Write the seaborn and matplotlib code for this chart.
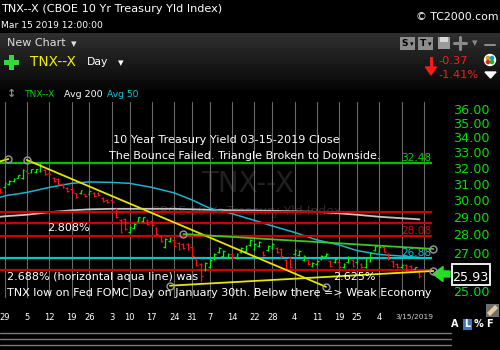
import numpy as np
import pandas as pd
import matplotlib
matplotlib.use("Agg")
import matplotlib.pyplot as plt
import seaborn as sns
from matplotlib.patches import Rectangle, Circle, Polygon
from matplotlib.transforms import ScaledTranslation
from matplotlib.ticker import NullLocator, NullFormatter
from matplotlib.colors import LinearSegmentedColormap

# ---------------- data (trading-day index, 0 = Oct 29 2018) ----------------
day = list(range(-1, 94))
high = [30.92, 31.23, 31.41, 31.54, 31.73, 32.12, 31.99, 32.12, 32.12, 32.48,
        32.12, 31.92, 31.60, 31.54, 31.23, 30.98, 30.92, 30.61, 30.80, 30.55,
        30.73, 30.67, 30.67, 30.36, 30.24, 30.18, 29.71, 29.06, 29.12, 28.65,
        28.82, 29.18, 29.18, 29.06, 29.00, 28.59, 28.14, 27.97, 28.03, 27.91,
        27.75, 27.69, 27.69, 27.52, 26.87, 26.60, 26.66, 26.82, 27.14, 27.47,
        27.30, 27.14, 27.14, 27.14, 27.47, 27.58, 27.91, 27.69, 27.80, 27.25,
        27.58, 27.69, 27.47, 27.41, 26.82, 26.93, 27.36, 27.30, 27.03, 26.82,
        26.66, 26.76, 27.03, 27.14, 26.76, 26.87, 26.71, 26.60, 26.98, 26.82,
        26.93, 26.60, 26.93, 27.19, 27.58, 27.52, 27.52, 27.14, 26.76, 26.60,
        26.55, 26.55, 26.50, 26.39, 26.12]
low = [30.61, 30.98, 31.10, 31.29, 31.54, 31.48, 31.86, 31.86, 31.86, 31.92,
       31.73, 31.73, 31.29, 31.10, 30.92, 30.67, 30.61, 30.30, 30.55, 30.36,
       30.49, 30.36, 30.43, 30.06, 30.00, 30.06, 29.12, 28.25, 28.42, 28.25,
       28.48, 28.88, 28.88, 28.70, 28.65, 28.14, 27.75, 27.41, 27.75, 27.47,
       27.30, 27.36, 27.30, 26.93, 26.44, 25.60, 26.18, 26.34, 26.76, 27.14,
       26.93, 26.87, 26.82, 26.82, 27.14, 27.19, 27.52, 27.30, 27.47, 26.98,
       27.25, 27.36, 27.14, 26.88, 26.28, 26.34, 27.03, 26.98, 26.71, 26.50,
       26.39, 26.50, 26.76, 26.93, 26.39, 26.60, 26.34, 26.34, 26.60, 26.39,
       26.60, 26.34, 26.34, 26.66, 27.25, 27.19, 27.19, 26.76, 26.39, 26.34,
       26.34, 26.18, 26.23, 26.28, 25.81]
opn = [30.88, 31.00, 31.14, 31.32, 31.56, 31.52, 31.97, 31.90, 31.90, 31.98,
       32.05, 31.88, 31.55, 31.48, 31.18, 30.94, 30.88, 30.58, 30.58, 30.52,
       30.52, 30.63, 30.63, 30.32, 30.20, 30.16, 29.66, 29.00, 29.05, 28.30,
       28.52, 28.92, 28.92, 29.02, 28.96, 28.54, 28.10, 27.48, 27.80, 27.86,
       27.70, 27.64, 27.64, 27.46, 26.82, 26.55, 26.24, 26.40, 26.80, 27.18,
       26.98, 26.90, 27.10, 26.86, 27.18, 27.24, 27.56, 27.34, 27.50, 27.21,
       27.28, 27.40, 27.42, 27.36, 26.76, 26.88, 27.06, 27.02, 26.74, 26.78,
       26.42, 26.53, 26.80, 26.96, 26.72, 26.63, 26.66, 26.37, 26.64, 26.78,
       26.64, 26.56, 26.40, 26.72, 27.28, 27.22, 27.48, 27.10, 26.72, 26.56,
       26.37, 26.50, 26.46, 26.30, 26.08]
close = [30.66, 31.20, 31.36, 31.50, 31.70, 32.05, 31.88, 32.08, 32.10, 32.30,
         31.78, 31.76, 31.33, 31.15, 30.96, 30.70, 30.65, 30.34, 30.76, 30.40,
         30.70, 30.40, 30.46, 30.10, 30.04, 30.08, 29.18, 28.32, 28.50, 28.60,
         28.78, 29.14, 29.15, 28.75, 28.70, 28.20, 27.80, 27.92, 27.98, 27.52,
         27.36, 27.40, 27.35, 27.00, 26.50, 25.90, 26.60, 26.76, 27.10, 27.42,
         27.26, 27.10, 26.86, 27.10, 27.42, 27.54, 27.86, 27.64, 27.76, 27.02,
         27.54, 27.64, 27.18, 26.95, 26.34, 26.40, 27.32, 27.26, 27.00, 26.54,
         26.62, 26.72, 27.00, 27.10, 26.44, 26.84, 26.38, 26.57, 26.94, 26.44,
         26.90, 26.38, 26.88, 27.14, 27.54, 27.48, 27.22, 26.80, 26.44, 26.38,
         26.52, 26.22, 26.26, 26.37, 25.93]

# moving averages read at the weekly grid days
ma_day = [-1, 0, 5, 10, 15, 19, 24, 28, 33, 38, 42, 46, 51, 56, 60, 65, 70, 75, 79, 84, 93]
avg50 = [30.34, 30.43, 30.64, 30.95, 31.20, 31.29, 31.26, 31.20, 30.95, 30.61, 30.18,
         29.68, 29.36, 28.97, 28.65, 28.28, 27.86, 27.58, 27.27, 27.06, 26.90]
avg200 = [29.18, 29.21, 29.30, 29.45, 29.56, 29.62, 29.65, 29.65, 29.65, 29.65, 29.62,
          29.59, 29.56, 29.55, 29.53, 29.50, 29.47, 29.38, 29.30, 29.18, 29.03]

# horizontal levels
red_levels = [29.45, 28.84, 28.08, 26.25]
green_level = 32.48
aqua_level = 26.88

# trend lines: (day, value) endpoints
yellow_stub = [(-1.054, 32.60), (0.81, 32.76)]
yellow_down = [(4.93, 32.70), (72.04, 25.36)]
yellow_up = [(37.06, 25.42), (96.1, 26.18)]
green_slope = [(40.04, 28.19), (96.1, 27.36)]

# axes labels
x_tick_days = [0, 5, 10, 15, 19, 24, 28, 33, 38, 42, 46, 51, 56, 60, 65, 70, 75, 79, 84]
x_tick_labels = ['29', '5', '12', '19', '26', '3', '10', '17', '24', '31', '7', '14',
                 '22', '28', '4', '11', '19', '25', '4']
extra_grid_days = [89, 94]
y_ticks = [36, 35, 34, 33, 32, 31, 30, 29, 28, 27, 25]
last_close = 25.93

# ---------------- figure ----------------
sns.set_theme(style="dark", rc={"axes.facecolor": "black", "figure.facecolor": "black"})
plt.rcParams['font.family'] = ['DejaVu Sans']

W, H = 500, 350
fig = plt.figure(figsize=(5, 3.5), dpi=100)
fig.patch.set_facecolor('black')


def fx(x):
    return x / W


def fy(y):
    return 1 - y / H


# background UI layer in pixel coordinates
bg = fig.add_axes([0, 0, 1, 1], zorder=-5)
bg.set_facecolor('black')
grad = np.linspace(0, 1, 64)[:, None]
cm = LinearSegmentedColormap.from_list('g', ['#303030', '#060606'])
bg.imshow(grad, extent=(0, W, 90, 33), cmap=cm, aspect='auto', origin='upper')
bg.set_xlim(0, W)
bg.set_ylim(H, 0)
bg.axis('off')

# toolbar icons
for x0, s in [(400, 'S'), (418, 'T')]:
    bg.add_patch(Rectangle((x0, 37), 15, 13, color='#8c8c8c', lw=0))
    bg.text(x0 + 5, 43.5, s, color='black', fontsize=6.5, fontweight='bold', ha='center', va='center')
    bg.text(x0 + 11.5, 44, '▾', color='black', fontsize=5, ha='center', va='center')
bg.add_patch(Rectangle((438, 37), 12, 12, color='#9a9a9a', lw=0))
bg.add_patch(Rectangle((440, 37), 8, 5, color='#d8d8d8', lw=0))
bg.plot([454, 466], [43, 43], color='#8a8a8a', lw=2.2)
bg.plot([460, 460], [37, 49], color='#8a8a8a', lw=2.2)
bg.text(475, 43, '▾', color='#8a8a8a', fontsize=8, ha='center', va='center')
bg.plot([485, 495], [45, 45], color='#8a8a8a', lw=1.5)
bg.add_patch(Circle((490, 60), 5.5, color='white'))
for (dx, dy, c) in [(-2, -2, '#e8a000'), (2, -2, '#00a0e0'), (-2, 2, '#e02020'), (2, 2, '#20b020')]:
    bg.add_patch(Circle((490 + dx, 60 + dy), 1.6, color=c))
bg.add_patch(Polygon([[485, 72], [496, 72], [490.5, 78]], color='white'))

# red down arrow
bg.add_patch(Rectangle((429.5, 57), 3, 11, color='#ff1a1a', lw=0))
bg.add_patch(Polygon([[425.5, 67], [436.5, 67], [431, 75]], color='#ff1a1a'))

# green plus
bg.add_patch(Rectangle((4, 59.5), 15, 5, color='#38d838', lw=0))
bg.add_patch(Rectangle((9, 54.5), 5, 15, color='#38d838', lw=0))

# bottom gray lines
for yy in [333, 339, 345]:
    bg.plot([0, 451], [yy, yy], color='#7a7a7a', lw=1)

# pencil icon
bg.add_patch(Rectangle((486, 304), 13, 13, color='#6e6e6e', lw=0))
bg.plot([488.5, 496.5], [314.5, 306.5], color='#e8c8a0', lw=3.2, solid_capstyle='butt')

# L box
bg.add_patch(Rectangle((462.5, 318.5), 9.5, 11.5, color='#3c78b8', lw=0))

# price box and arrow
bg.add_patch(Rectangle((452, 263.5), 37.5, 21, facecolor='black', edgecolor='white', lw=1.3))
bg.add_patch(Polygon([[433, 274], [443, 266.5], [443, 271], [450, 271], [450, 277], [443, 277], [443, 281.5]],
                     color='#22e022'))

# ---------------- main chart ----------------
ax = fig.add_axes([0, fy(298), 432 / W, (298 - 102) / H])
ax.set_facecolor('black')
ax.set_yscale('log')
for sp in ax.spines.values():
    sp.set_visible(False)

# watermarks
ax.text(248 / 432, (298 - 184) / 196, 'TNX--X', transform=ax.transAxes, color='#202020',
        fontsize=20, ha='center', va='center', zorder=0)
ax.text(246 / 432, (298 - 212) / 196, 'CBOE 10 Yr Treasury Yld Index', transform=ax.transAxes,
        color='#2a2a2a', fontsize=9, ha='center', va='center', zorder=0)

# horizontal levels
ax.axhline(green_level, color='#00c000', lw=1.6, zorder=3)
for lv in red_levels:
    ax.axhline(lv, color='#cc0000', lw=1.6, zorder=3)
ax.axhline(aqua_level, color='#00c8c8', lw=1.6, zorder=3)

# moving averages
sns.lineplot(x=ma_day, y=avg200, ax=ax, color='#c4c4c4', lw=1.3, zorder=2, legend=False)
sns.lineplot(x=ma_day, y=avg50, ax=ax, color='#1cb4cc', lw=1.1, zorder=2, legend=False)

# OHLC bars
x = np.array(day, dtype=float)
up = np.array(close) >= np.array(opn)
cols = np.where(up, '#00f000', '#ff1010')
ax.vlines(x, low, high, colors=cols, lw=0.9, zorder=4)
ax.hlines(opn, x - 0.4, x, colors=cols, lw=0.9, zorder=4)
ax.hlines(close, x, x + 0.4, colors=cols, lw=0.9, zorder=4)

# trend lines
for seg, c in [(yellow_stub, '#e6e600'), (yellow_down, '#e6e600'), (yellow_up, '#e6e600'),
               (green_slope, '#3cc81e')]:
    xs, ys = zip(*seg)
    ax.plot(xs, ys, color=c, lw=1.3, zorder=5, clip_on=False)
circ = [yellow_stub[1], yellow_down[0], yellow_down[1], yellow_up[0], yellow_up[1],
        green_slope[0], green_slope[1]]
cx, cy = zip(*circ)
ax.plot(cx, cy, 'o', ms=5, mfc='none', mec='#9a9a9a', mew=1.0, zorder=6, clip_on=False)

ax.set_xlim(-1.054, 95.81)
ax.set_ylim(24.80, 36.72)

# x axis
ax.set_xticks(x_tick_days)
ax.set_xticks(extra_grid_days, minor=True)
ax.set_xticklabels(x_tick_labels)
ax.tick_params(axis='x', which='both', length=0, pad=11, labelsize=6, labelcolor='white')
ax.grid(axis='x', which='both', color='#6a6a6a', lw=0.8)
ax.grid(axis='y', which='both', visible=False)

# y axis (right)
ax.yaxis.tick_right()
ax.yaxis.set_minor_locator(NullLocator())
ax.yaxis.set_minor_formatter(NullFormatter())
ax.tick_params(axis='y', which='both', length=0, pad=15, labelsize=9.2, labelcolor='#00e000',
               labelright=True, labelleft=False)
ax.set_yticks(y_ticks)
ax.set_yticklabels([f'{v:.2f}' for v in y_ticks])
ax.yaxis.set_minor_locator(NullLocator())
off = ScaledTranslation(0, 3 / 100, fig.dpi_scale_trans)
for t in ax.yaxis.get_major_ticks():
    t.label2.set_transform(t.label2.get_transform() + off)

# level labels
rx = 431 / 432
ax.text(rx, green_level, '32.48', transform=ax.get_yaxis_transform(), color='#00d000', fontsize=7.6,
        ha='right', va='bottom')
ax.text(rx, 28.08, '28.08', transform=ax.get_yaxis_transform(), color='#e00000', fontsize=7.6,
        ha='right', va='bottom')
ax.text(rx, aqua_level, '26.88', transform=ax.get_yaxis_transform(), color='#00c8e0', fontsize=7.6,
        ha='right', va='bottom')

# last price
ax.text(470.5 / 432, last_close, f'{last_close:.2f}', transform=ax.get_yaxis_transform(),
        color='white', fontsize=9.2, ha='center', va='center_baseline', clip_on=False)

# ---------------- texts ----------------
def T(x, y, s, **kw):
    kw.setdefault('color', 'white')
    kw.setdefault('va', 'center')
    fig.text(fx(x), fy(y), s, **kw)

T(1, 8.7, 'TNX--X (CBOE 10 Yr Treasury Yld Index)', fontsize=8.1)
T(1, 25, 'Mar 15 2019 12:00:00', fontsize=6.6)
T(498, 16.7, '© TC2000.com', fontsize=7.8, ha='right')
T(7, 43, 'New Chart', fontsize=8.0, color='#dedede')
T(74, 44, '▾', fontsize=8, color='#dedede', ha='center')
T(30, 62, 'TNX--X', fontsize=9.8, color='#f0f000')
T(87, 62, 'Day', fontsize=7.8, color='white')
T(121, 63, '▾', fontsize=8, color='white', ha='center')
T(438, 61, '-0.37', fontsize=8.2, color='#ff1a1a')
T(438, 75.5, '-1.41%', fontsize=8.2, color='#ff1a1a')
T(12, 94, '↕', fontsize=8, color='#8a8a8a', ha='center', fontweight='bold')
T(25, 95, 'TNX--X', fontsize=6.6, color='#00d000')
T(64, 95, 'Avg 200', fontsize=6.8, color='white')
T(107, 95, 'Avg 50', fontsize=6.6, color='#00c8e8')

T(113, 140, '10 Year Treasury Yield 03-15-2019 Close', fontsize=8.1)
T(109, 156, 'The Bounce Failed. Triangle Broken to Downside.', fontsize=8.0)
T(47, 228, '2.808%', fontsize=8.0)
T(333, 277, '2.625%', fontsize=8.0)
T(7, 277, '2.688% (horizontal aqua line) was', fontsize=8.0)
T(7, 293, 'TNX low on Fed FOMC Day on January 30th. Below there => Weak Economy', fontsize=8.0)

T(414, 317, '3/15/2019', fontsize=5.4, color='#d0d0d0', ha='center')
T(455, 324, 'A', fontsize=7, color='white', ha='center', fontweight='bold')
T(467, 324, 'L', fontsize=7, color='white', ha='center', fontweight='bold')
T(478, 324, '%', fontsize=7, color='white', ha='center', fontweight='bold')
T(489, 324, 'F', fontsize=7, color='white', ha='center', fontweight='bold')

fig.savefig('out.png', dpi=100, facecolor='black')
